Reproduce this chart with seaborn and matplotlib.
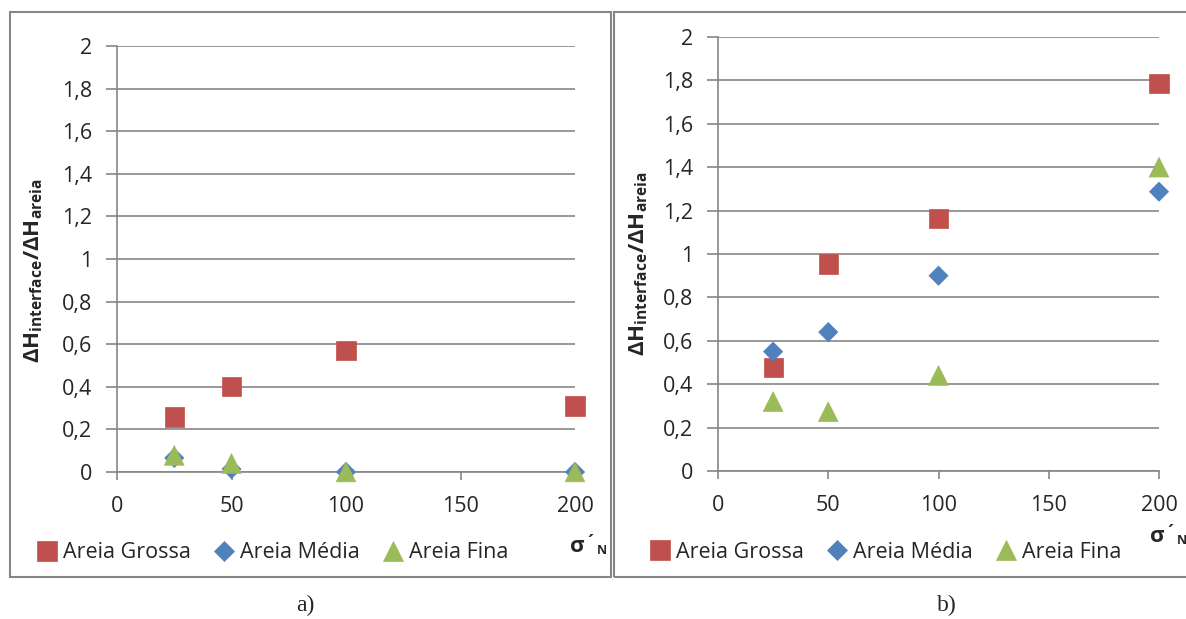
import pandas as pd
import seaborn as sns
import matplotlib.pyplot as plt
from matplotlib.patches import Rectangle

# Dados (tensão normal efetiva x razão de deslocamentos)
tensoes = [25, 50, 100, 200]
areias = ['Areia Grossa', 'Areia Média', 'Areia Fina']

# painel a)
grossa_a = [0.258, 0.40, 0.57, 0.31]
media_a = [0.066, 0.014, 0.0, 0.0]
fina_a = [0.078, 0.04, 0.0, 0.0]

# painel b)
grossa_b = [0.478, 0.954, 1.165, 1.787]
media_b = [0.55, 0.64, 0.90, 1.287]
fina_b = [0.32, 0.273, 0.44, 1.40]

yticks = [0, 0.2, 0.4, 0.6, 0.8, 1.0, 1.2, 1.4, 1.6, 1.8, 2.0]
ytick_labels = ['0', '0,2', '0,4', '0,6', '0,8', '1', '1,2', '1,4', '1,6', '1,8', '2']
xticks = [0, 50, 100, 150, 200]

cores = {'Areia Grossa': '#C0504D', 'Areia Média': '#4F81BD', 'Areia Fina': '#9BBB59'}
marcadores = {'Areia Grossa': 's', 'Areia Média': 'D', 'Areia Fina': '^'}
tamanhos = {'Areia Grossa': 190, 'Areia Média': 95, 'Areia Fina': 200}
cinza = '#868686'

sns.set_style('white')
plt.rcParams['font.family'] = ['Open Sans', 'DejaVu Sans']
plt.rcParams['mathtext.fontset'] = 'custom'
plt.rcParams['mathtext.rm'] = 'Open Sans'
plt.rcParams['mathtext.bf'] = 'Open Sans:bold'
plt.rcParams['mathtext.it'] = 'Open Sans:italic'

W, H = 1186, 619
fig = plt.figure(figsize=(W / 100, H / 100), dpi=100)


def monta_tabela(g, m, f):
    return pd.DataFrame({
        'sigma': tensoes * 3,
        'razao': g + m + f,
        'areia': [a for a in areias for _ in tensoes],
    })


def px_axes(x0, x1, ytop, ybot):
    return [x0 / W, 1 - ybot / H, (x1 - x0) / W, (ybot - ytop) / H]


paineis = [
    # (dados, posição px, legenda px, rótulo y, sigma px, letra)
    (monta_tabela(grossa_a, media_a, fina_a), (117, 575, 46, 472), (37, 553),
     (34, 271), (570, 547), (305, 'a)')),
    (monta_tabela(grossa_b, media_b, fina_b), (718, 1159, 37, 471), (650, 552),
     (639, 264), (1150, 537), (947, 'b)')),
]

# molduras dos dois gráficos
fig.patches.append(Rectangle((10 / W, 1 - 577 / H), 601 / W, 565 / H, transform=fig.transFigure,
                             fill=False, ec=cinza, lw=1.5))
fig.patches.append(Rectangle((614 / W, 1 - 577 / H), 600 / W, 565 / H, transform=fig.transFigure,
                             fill=False, ec=cinza, lw=1.5))

renderer = fig.canvas.get_renderer()

for dados, pos, leg, ylab, sig, letra in paineis:
    x0, x1, yt, yb = pos
    ax = fig.add_axes(px_axes(x0, x1, yt, yb))
    sns.scatterplot(data=dados, x='sigma', y='razao', hue='areia', style='areia', size='areia',
                    hue_order=areias, style_order=areias, size_order=areias,
                    palette=cores, markers=marcadores, sizes=tamanhos,
                    edgecolor='face', linewidth=0.5, clip_on=False, zorder=3, ax=ax)
    ax.set_xlim(0, 200)
    ax.set_ylim(0, 2)
    ax.set_xticks(xticks)
    ax.set_xticklabels([str(v) for v in xticks])
    ax.set_yticks(yticks)
    ax.set_yticklabels(ytick_labels)
    ax.yaxis.grid(True, color=cinza, lw=1.2)
    ax.xaxis.grid(False)
    ax.spines[['top', 'right']].set_visible(False)
    for lado in ['left', 'bottom']:
        ax.spines[lado].set_color(cinza)
        ax.spines[lado].set_linewidth(1.2)
    ax.tick_params(axis='y', length=8, width=1.2, color=cinza, pad=10, labelsize=15.5, left=True)
    ax.tick_params(axis='x', length=6, width=1.2, color=cinza, pad=11, labelsize=15.5, bottom=True)
    ax.set_xlabel('')
    ax.set_ylabel(r'$\mathbf{\Delta H_{interface}/\Delta H_{areia}}$', fontsize=16, va='center')
    ax.yaxis.set_label_coords((ylab[0] - x0) / (x1 - x0), (yb - ylab[1]) / (yb - yt))

    sns.move_legend(ax, 'center left', bbox_to_anchor=(leg[0] / W, 1 - leg[1] / H),
                    bbox_transform=fig.transFigure, ncol=3, frameon=False, title=None,
                    fontsize=15.5, handletextpad=0.3, columnspacing=1.1, handlelength=0.9,
                    borderpad=0, borderaxespad=0)

    # rótulo do eixo x: sigma'_N
    t = fig.text(sig[0] / W, 1 - sig[1] / H, 'σ', fontsize=16, fontweight='bold',
                 ha='left', va='center')
    fim = t.get_window_extent(renderer).x1
    ac = fig.text((fim + 1) / W, 1 - (sig[1] - 4) / H, '´', fontsize=12, fontweight='bold',
                  ha='left', va='center')
    fim_ac = ac.get_window_extent(renderer).x1
    fig.text((fim_ac + 1) / W, 1 - (sig[1] + 4) / H, 'N', fontsize=9, fontweight='bold',
             ha='left', va='center')

    fig.text(letra[0] / W, 1 - 605 / H, letra[1], fontsize=17, family='Liberation Serif',
             ha='center', va='center')

fig.savefig('out.png', dpi=100)
